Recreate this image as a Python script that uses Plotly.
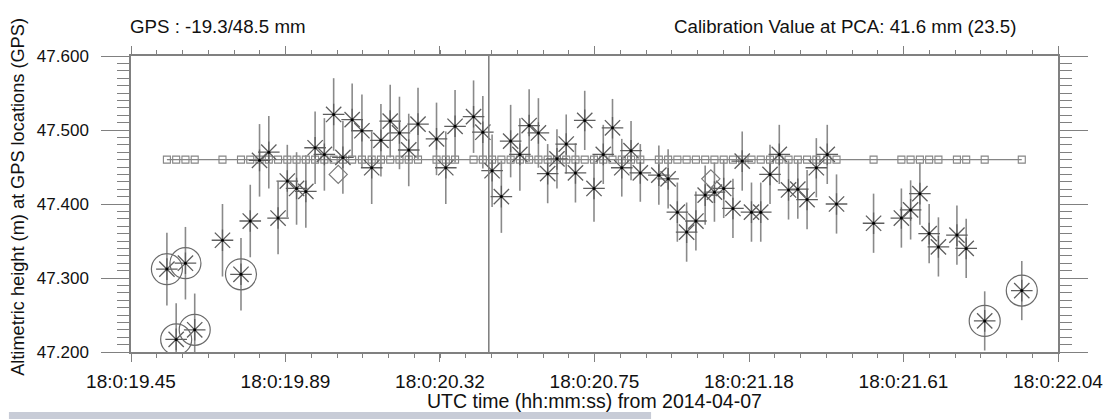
import plotly.graph_objects as go

# ---------------- data ----------------
# time in seconds after 18:00:00 UTC
times = [
    19.5503, 19.5762, 19.6021, 19.6280, 19.7056, 19.7573, 19.7832, 19.8091, 19.8350, 19.8609,
    19.8867, 19.9126, 19.9385, 19.9644, 19.9903, 20.0162, 20.0420, 20.0679, 20.0952,
    20.1225, 20.1483, 20.1742, 20.2001, 20.2260, 20.2519, 20.3036, 20.3295, 20.3554, 20.4071,
    20.4330, 20.4589, 20.4848, 20.5107, 20.5365, 20.5624, 20.5883, 20.6142, 20.6401, 20.6660,
    20.6918, 20.7177,
    20.7436, 20.7695, 20.7953, 20.8212, 20.8471, 20.8730, 20.9248, 20.9507, 20.9765, 21.0024,
    21.0283, 21.0542, 21.0801, 21.1060, 21.1318, 21.1577, 21.1836, 21.2095, 21.2354, 21.2613,
    21.2871, 21.3130, 21.3389, 21.3648,
    21.3953, 21.4212, 21.5247, 21.6024, 21.6282, 21.6541, 21.6800, 21.7059, 21.7576, 21.7835,
    21.8352, 21.9388,
]
heights = [
    47.312, 47.217, 47.320, 47.230, 47.351, 47.305, 47.377, 47.459, 47.470, 47.381,
    47.431, 47.421, 47.417, 47.476, 47.467, 47.521, 47.463, 47.514, 47.499,
    47.449, 47.486, 47.512, 47.496, 47.473, 47.508, 47.488, 47.449, 47.505, 47.518,
    47.497, 47.445, 47.410, 47.485, 47.467, 47.506, 47.496, 47.441, 47.461, 47.481,
    47.442, 47.513,
    47.421, 47.467, 47.503, 47.449, 47.472, 47.442, 47.439, 47.434, 47.389, 47.362,
    47.377, 47.412, 47.416, 47.421, 47.394, 47.458, 47.389, 47.389, 47.440, 47.467,
    47.419, 47.420, 47.406, 47.449,
    47.467, 47.400, 47.374, 47.381, 47.392, 47.414, 47.360, 47.342, 47.358, 47.340,
    47.242, 47.283,
]
errors = [
    0.049, 0.049, 0.049, 0.049, 0.049, 0.049, 0.049, 0.049, 0.049, 0.049,
    0.049, 0.049, 0.049, 0.049, 0.049, 0.049, 0.049, 0.049, 0.049,
    0.049, 0.049, 0.049, 0.049, 0.049, 0.049, 0.049, 0.049, 0.049, 0.049,
    0.049, 0.049, 0.049, 0.049, 0.049, 0.049, 0.047, 0.040, 0.040, 0.040,
    0.040, 0.040,
    0.045, 0.040, 0.039, 0.039, 0.040, 0.039, 0.040, 0.040, 0.040, 0.040,
    0.040, 0.040, 0.040, 0.040, 0.040, 0.040, 0.040, 0.040, 0.040, 0.040,
    0.040, 0.040, 0.040, 0.040,
    0.040, 0.040, 0.040, 0.040, 0.040, 0.042, 0.040, 0.040, 0.040, 0.040,
    0.040, 0.040,
]
outlier_idx = [0, 1, 2, 3, 5, 75, 76]
diamond_times = [20.029, 21.070]
diamond_heights = [47.440, 47.434]
gps_level = 47.46
pca_time = 20.4497

x_tickvals = [19.45, 19.8817, 20.3133, 20.745, 21.1767, 21.6083, 22.04]
x_ticktext = ["18:0:19.45", "18:0:19.89", "18:0:20.32", "18:0:20.75",
              "18:0:21.18", "18:0:21.61", "18:0:22.04"]
y_tickvals = [47.2, 47.3, 47.4, 47.5, 47.6]
y_ticktext = ["47.200", "47.300", "47.400", "47.500", "47.600"]

title_left = "GPS : -19.3/48.5 mm"
title_right = "Calibration Value at PCA: 41.6 mm (23.5)"
x_title = "UTC time (hh:mm:ss) from 2014-04-07"
y_title = "Altimetric height (m) at GPS locations (GPS)"

# ---------------- figure ----------------
FONT = "Liberation Sans, Arial, Helvetica, sans-serif"
OFF = 8                       # page body margin of the html page
PAGE_W, PAGE_H = 1115, 419
W, H = PAGE_W - OFF, PAGE_H - OFF
AX_L, AX_R, AX_T, AX_B = 131, 1065, 56, 352   # plot frame in page pixels
ML, MR, MT, MB = AX_L - OFF, W - (AX_R - OFF), AX_T - OFF, H - (AX_B - OFF)
PW, PH = W - ML - MR, H - MT - MB


def px_x(p):
    return (p - AX_L) / PW


def px_y(p):
    return (AX_B - p) / PH


fig = go.Figure()

fig.add_trace(go.Scatter(
    x=times, y=[gps_level] * len(times), mode="lines+markers",
    line=dict(color="#858585", width=1.2),
    marker=dict(symbol="square-open", size=7, color="#858585", line=dict(width=1.1)),
    hoverinfo="skip", showlegend=False))

fig.add_trace(go.Scatter(
    x=times, y=heights, mode="markers",
    error_y=dict(type="data", array=errors, visible=True, color="#8a8a8a",
                 thickness=1.6, width=0),
    marker=dict(symbol="asterisk-open", size=18, color="#5e5e5e",
                line=dict(width=1.3, color="#5e5e5e")),
    showlegend=False))

fig.add_trace(go.Scatter(
    x=times, y=heights, mode="markers",
    marker=dict(symbol="circle", size=3, color="black"),
    hoverinfo="skip", showlegend=False))

fig.add_trace(go.Scatter(
    x=[times[i] for i in outlier_idx], y=[heights[i] for i in outlier_idx],
    mode="markers",
    marker=dict(symbol="circle-open", size=31, color="#6a6a6a", line=dict(width=1.2)),
    hoverinfo="skip", showlegend=False))

fig.add_trace(go.Scatter(
    x=diamond_times, y=diamond_heights, mode="markers",
    marker=dict(symbol="diamond-open", size=14, color="#7a7a7a", line=dict(width=1.2)),
    hoverinfo="skip", showlegend=False))

fig.add_shape(type="line", xref="x", yref="paper", x0=pca_time, x1=pca_time,
              y0=0, y1=1, line=dict(color="#7a7a7a", width=1.5))

# faint band at the very bottom of the picture
fig.add_shape(type="rect", xref="paper", yref="paper",
              x0=px_x(OFF), x1=px_x(655), y0=px_y(PAGE_H), y1=px_y(412),
              fillcolor="#c8ccd7", line=dict(width=0), layer="below")

axis_common = dict(showgrid=False, zeroline=False, showline=True,
                   linecolor="#808080", linewidth=1.5, mirror="allticks",
                   ticks="outside", tickcolor="#808080", tickwidth=1.2)

fig.update_layout(
    width=W, height=H,
    margin=dict(l=ML, r=MR, t=MT, b=MB, pad=0),
    paper_bgcolor="white", plot_bgcolor="white",
    font=dict(family=FONT, size=17, color="#111111"),
    xaxis=dict(range=[19.45, 22.04], tickmode="array", tickvals=x_tickvals,
               ticktext=x_ticktext, ticklen=8, ticklabelstandoff=3,
               tickfont=dict(family=FONT, size=19, color="#111111"),
               minor=dict(tick0=19.45, dtick=0.0719444, ticklen=4, ticks="outside",
                          tickcolor="#808080", showgrid=False),
               **axis_common),
    yaxis=dict(range=[47.2, 47.6], tickmode="array", tickvals=y_tickvals,
               ticktext=y_ticktext, ticklen=28, ticklabelstandoff=9,
               tickfont=dict(family=FONT, size=17, color="#111111"),
               minor=dict(tick0=47.2, dtick=0.01, ticklen=12, ticks="outside",
                          tickcolor="#808080", showgrid=False),
               **axis_common),
    annotations=[
        dict(text=title_left, xref="paper", yref="paper", x=px_x(128), y=px_y(26),
             xanchor="left", yanchor="middle", showarrow=False,
             font=dict(family=FONT, size=18.7, color="#111111")),
        dict(text=title_right, xref="paper", yref="paper", x=px_x(1025), y=px_y(26),
             xanchor="right", yanchor="middle", showarrow=False,
             font=dict(family=FONT, size=18.7, color="#111111")),
        dict(text=x_title, xref="paper", yref="paper", x=0.5, y=px_y(401),
             xanchor="center", yanchor="middle", showarrow=False,
             font=dict(family=FONT, size=19.5, color="#111111")),
        dict(text=y_title, xref="paper", yref="paper", x=px_x(17), y=px_y(197),
             xanchor="center", yanchor="middle", showarrow=False, textangle=-90,
             font=dict(family=FONT, size=18.2, color="#111111")),
    ],
)

fig.write_html("out.html")
